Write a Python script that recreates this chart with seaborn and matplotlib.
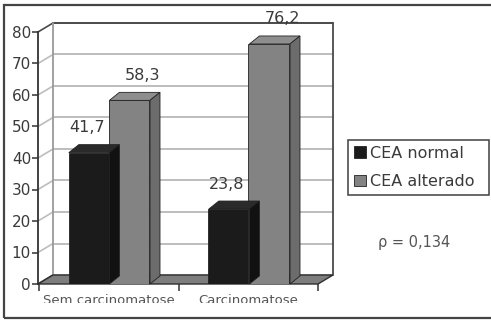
import matplotlib
matplotlib.use("Agg")
import numpy as np
import pandas as pd
import seaborn as sns
import matplotlib.pyplot as plt
from matplotlib.patches import Polygon, Rectangle
from matplotlib.lines import Line2D
from matplotlib.transforms import IdentityTransform

# ---- data ----
grupos = ["Sem carcinomatose", "Carcinomatose"]
series = ["CEA normal", "CEA alterado"]
cea_normal = [41.7, 23.8]
cea_alterado = [58.3, 76.2]
y_ticks = [0, 10, 20, 30, 40, 50, 60, 70, 80]
p_text = "ρ = 0,134"

df = pd.DataFrame({
    "grupo": grupos * 2,
    "cea": [series[0]] * 2 + [series[1]] * 2,
    "valor": cea_normal + cea_alterado,
})

# ---- style ----
sns.set_theme(style="white")
plt.rcParams["font.family"] = ["DejaVu Sans"]
TXT = "#3a3a3a"
front = {"CEA normal": "#1b1b1b", "CEA alterado": "#838383"}
tops = {"#1b1b1b": "#2a2a2a", "#838383": "#8e8e8e"}
sides = {"#1b1b1b": "#111111", "#838383": "#6c6c6c"}

W, H = 491, 320
fig = plt.figure(figsize=(W / 100, H / 100), dpi=100)
fig.patch.set_facecolor("white")
ax = fig.add_axes([38 / W, 1 - 284 / H, 280 / W, 252 / H])
ax.set_facecolor("none")

sns.barplot(data=df, x="grupo", y="valor", hue="cea", order=grupos,
            hue_order=series, palette=front, width=0.58, gap=0,
            edgecolor="#222222", linewidth=0.6, legend=False, ax=ax,
            zorder=2)

ax.set_xlim(-0.51, 1.49)
ax.set_ylim(y_ticks[0], y_ticks[-1])
ax.set_xlabel("")
ax.set_ylabel("")

ident = IdentityTransform()
WALL = np.array([15.0, 9.0])   # depth of the back wall, in pixels
BAR = np.array([10.0, 8.0])    # depth of each bar, in pixels


def disp(x, y):
    return ax.transData.transform((x, y))


# back wall and left wall gridlines
x0, x1 = ax.get_xlim()
for t in y_ticks:
    p = disp(x0, t)
    q = disp(x1, t)
    edge = t in (y_ticks[0], y_ticks[-1])
    col = "#4a4a4a" if t == y_ticks[-1] else "#bdbdbd"
    ax.add_artist(Line2D([p[0] + WALL[0], q[0] + WALL[0]],
                         [p[1] + WALL[1], q[1] + WALL[1]],
                         transform=ident, color=col, lw=1.4, zorder=0.5,
                         clip_on=False))
    ax.add_artist(Line2D([p[0], p[0] + WALL[0]], [p[1], p[1] + WALL[1]],
                         transform=ident,
                         color="#4a4a4a" if edge else "#bdbdbd",
                         lw=1.2, zorder=0.5, clip_on=False))
for xe, col in ((x0, "#9a9a9a"), (x1, "#4a4a4a")):
    b = disp(xe, y_ticks[0]) + WALL
    tp = disp(xe, y_ticks[-1]) + WALL
    ax.add_artist(Line2D([b[0], tp[0]], [b[1], tp[1]], transform=ident,
                         color=col, lw=1.3, zorder=0.5, clip_on=False))

# floor
f0 = disp(x0, 0)
f1 = disp(x1, 0)
ax.add_artist(Polygon([f0, f1, f1 + WALL, f0 + WALL], closed=True,
                      transform=ident, facecolor="#7e7e7e",
                      edgecolor="#2e2e2e", lw=1.0, zorder=0.6, clip_on=False))

# top and side faces of each bar, plus value labels
bars = [p for p in ax.patches if isinstance(p, Rectangle)]
label_shift = {"#1b1b1b": -2, "#838383": 13}
for bar in bars:
    bx, bw, bh = bar.get_x(), bar.get_width(), bar.get_height()
    fc = matplotlib.colors.to_hex(bar.get_facecolor())
    br = disp(bx + bw, 0)
    tl = disp(bx, bh)
    tr = disp(bx + bw, bh)
    ax.add_artist(Polygon([tl, tr, tr + BAR, tl + BAR], closed=True,
                          transform=ident, facecolor=tops.get(fc, fc),
                          edgecolor="#222222", lw=0.6, zorder=2.1,
                          clip_on=False))
    ax.add_artist(Polygon([br, tr, tr + BAR, br + BAR], closed=True,
                          transform=ident, facecolor=sides.get(fc, fc),
                          edgecolor="#222222", lw=0.6, zorder=2.1,
                          clip_on=False))
    cx = (tl[0] + tr[0]) / 2 + label_shift.get(fc, 5)
    ax.text(cx, tl[1] + 25, f"{bh:.1f}".replace(".", ","), transform=ident,
            ha="center", va="center", fontsize=11.5, color=TXT, zorder=3)

# axes, ticks
for side in ("top", "right", "bottom"):
    ax.spines[side].set_visible(False)
ax.spines["left"].set_color("#333333")
ax.spines["left"].set_linewidth(1.3)
ax.set_yticks(y_ticks)
ax.set_yticklabels([str(t) for t in y_ticks])
ax.tick_params(axis="y", direction="out", length=4, width=1.1,
               color="#333333", labelsize=11, labelcolor=TXT, pad=1,
               left=True)
ax.set_xticks([-0.5, 0.5, 1.5], minor=True)
ax.tick_params(axis="x", which="minor", direction="out", length=5,
               width=1.1, color="#333333", bottom=True)
ax.tick_params(axis="x", which="major", length=0, labelsize=9.5,
               labelcolor="#555555", pad=7)
ax.set_xticks(range(len(grupos)))
ax.set_xticklabels(grupos)
clip_rect = Rectangle((0, H - 303), W, 303, transform=ident)
for lab in ax.get_xticklabels():
    lab.set_clip_on(True)
    lab.set_clip_path(clip_rect)

# legend
handles = [Rectangle((0, 0), 1, 1, facecolor=front[s], edgecolor="#222222",
                     lw=0.6) for s in series]
leg = fig.legend(handles, series, loc="upper left",
                 bbox_to_anchor=(348 / W, 1 - 193 / H, 141 / W, 53 / H),
                 mode="expand", frameon=True, fancybox=False,
                 fontsize=11.5, handlelength=0.75, handleheight=0.75,
                 handletextpad=0.3, labelspacing=0.85, borderpad=0.35,
                 borderaxespad=0)
leg.get_frame().set_edgecolor("#111111")
leg.get_frame().set_linewidth(1.1)
for t in leg.get_texts():
    t.set_color(TXT)

fig.text(414 / W, 1 - 242 / H, p_text, ha="center", va="center",
         fontsize=10.5, color="#555555")

# outer frame
fig.add_artist(Rectangle((4, H - 318), W + 10, 313, transform=ident,
                         fill=False, edgecolor="#444444", lw=1.6,
                         clip_on=False))

fig.savefig("out.png", dpi=100)
